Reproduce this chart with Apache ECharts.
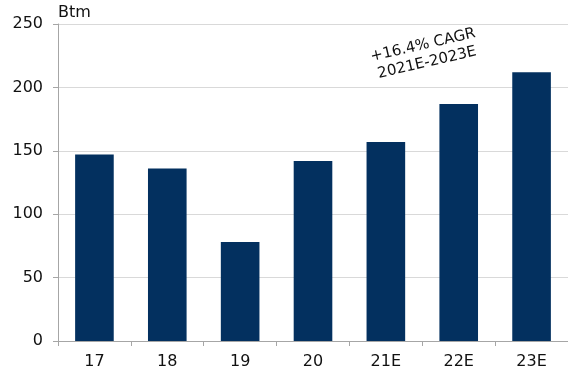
<!DOCTYPE html>
<html>
<head>
<meta charset="utf-8">
<script src="https://cdn.jsdelivr.net/npm/echarts@6/dist/echarts.min.js"></script>
<style>html,body{margin:0;padding:0;background:#fff}#c{width:568px;height:374px}</style>
</head>
<body>
<div id="c"></div>
<script>
var categories = ['17', '18', '19', '20', '21E', '22E', '23E'];
var values = [147, 136, 78, 142, 157, 187, 212];
var yTicks = [0, 50, 100, 150, 200, 250];
var unitLabel = 'Btm';
var annotation = '+16.4% CAGR\n2021E-2023E';

var chart = echarts.init(document.getElementById('c'), null, {renderer: 'canvas'});
var font = 'DejaVu Sans';
chart.setOption({
  animation: false,
  backgroundColor: '#ffffff',
  grid: {left: 58, right: 0, top: 24, bottom: 33},
  xAxis: {
    type: 'category',
    data: categories,
    axisLine: {lineStyle: {color: '#a6a6a6', width: 1}},
    axisTick: {show: true, length: 5, lineStyle: {color: '#a6a6a6'}},
    axisLabel: {color: '#111', fontFamily: font, fontSize: 16, margin: 13}
  },
  yAxis: {
    type: 'value',
    min: yTicks[0],
    max: yTicks[yTicks.length - 1],
    interval: yTicks[1] - yTicks[0],
    name: unitLabel,
    nameLocation: 'end',
    nameGap: 3,
    nameTextStyle: {color: '#111', fontFamily: font, fontSize: 16, align: 'left', verticalAlign: 'bottom'},
    axisLine: {show: true, lineStyle: {color: '#a6a6a6', width: 1}},
    axisTick: {show: true, length: 5, lineStyle: {color: '#a6a6a6'}},
    axisLabel: {color: '#111', fontFamily: font, fontSize: 16, margin: 15},
    splitLine: {lineStyle: {color: '#d9d9d9', width: 1}}
  },
  series: [{
    type: 'bar',
    data: values,
    barWidth: '53%',
    itemStyle: {color: '#03305f'}
  }],
  graphic: [{
    type: 'text',
    x: 425,
    y: 54,
    rotation: 13 * Math.PI / 180,
    style: {
      text: annotation,
      fill: '#111',
      font: '15px "DejaVu Sans"',
      align: 'center',
      verticalAlign: 'middle',
      lineHeight: 18
    }
  }]
});
</script>
</body>
</html>
